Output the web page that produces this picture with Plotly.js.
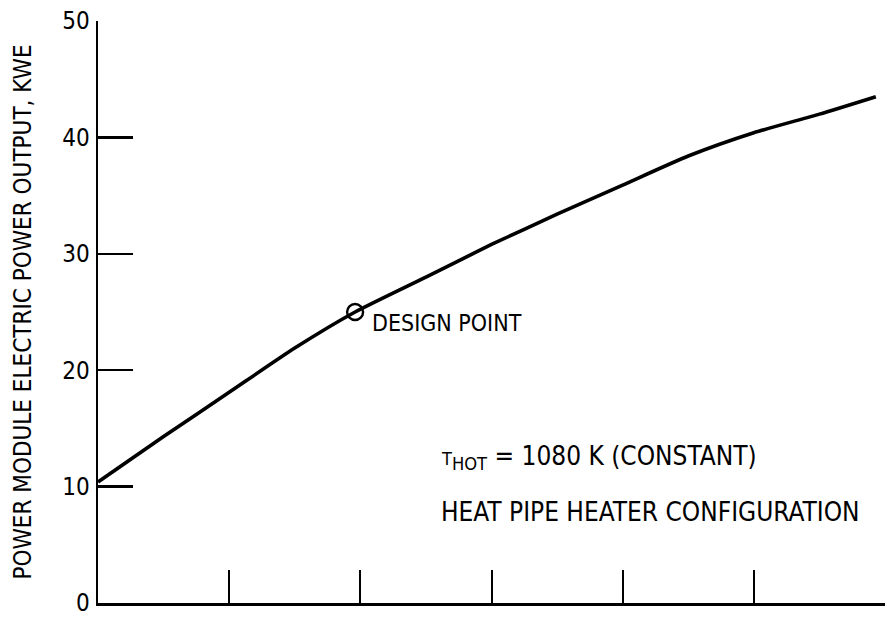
<!DOCTYPE html>
<html>
<head>
<meta charset="utf-8">
<script src="https://cdn.plot.ly/plotly-3.0.1.min.js"></script>
<style>html,body{margin:0;padding:0;background:#fff;}#chart{width:887px;height:618px;}</style>
</head>
<body>
<div id="chart"></div>
<script>
// Curve values (x in unlabeled axis units 0..6)
const curveX = [0, 0.5, 1.0, 1.5, 1.96, 2.5, 3.0, 3.5, 4.0, 4.5, 5.0, 5.5, 5.93];
const curveY = [10.4, 14.3, 18.1, 21.9, 25.0, 28.0, 30.8, 33.4, 35.9, 38.4, 40.4, 42.0, 43.5];
const designX = [1.96];
const designY = [25.0];
const yTicks = [0, 10, 20, 30, 40, 50];
const xTicks = [0, 1, 2, 3, 4, 5, 6];

const FONT = "DejaVu Sans Condensed, sans-serif";

const traces = [
  {x: curveX, y: curveY, mode: 'lines', type: 'scatter', line: {color: '#000', width: 3.6, shape: 'spline', smoothing: 0.6}, hoverinfo: 'skip'},
  {x: designX, y: designY, mode: 'markers', type: 'scatter', marker: {symbol: 'circle-open', size: 16, color: '#000', line: {width: 2.4, color: '#000'}}}
];

const layout = {
  width: 887, height: 618,
  margin: {l: 98, r: 2, t: 21, b: 15},
  paper_bgcolor: '#fff', plot_bgcolor: '#fff',
  showlegend: false,
  font: {family: FONT, color: '#000'},
  xaxis: {
    range: [0, 6], tickvals: xTicks, showticklabels: false,
    ticks: 'inside', ticklen: 33, tickwidth: 2, tickcolor: '#000',
    showline: true, linecolor: '#000', linewidth: 2.5, showgrid: false, zeroline: false
  },
  yaxis: {
    range: [0, 50], tickvals: yTicks, ticktext: yTicks.map(String),
    ticks: 'inside', ticklen: 35, tickwidth: 2.5, tickcolor: '#000',
    ticklabelstandoff: 1, ticklabeloverflow: 'allow',
    tickfont: {family: FONT, size: 24, color: '#000'},
    showline: true, linecolor: '#000', linewidth: 2.5, showgrid: false, zeroline: false,
    title: {text: 'POWER MODULE ELECTRIC POWER OUTPUT, KWE', font: {family: FONT, size: 24, color: '#000'}, standoff: 24}
  },
  annotations: [
    {x: 2.07, y: 24.06, xref: 'x', yref: 'y', text: 'DESIGN POINT', showarrow: false, xanchor: 'left', yanchor: 'middle', font: {family: FONT, size: 23, color: '#000'}},
    {x: 2.60, y: 12.5, xref: 'x', yref: 'y', text: '<span style="font-size:18px">T</span><sub>HOT</sub> = 1080 K (CONSTANT)', showarrow: false, xanchor: 'left', yanchor: 'middle', font: {family: FONT, size: 26, color: '#000'}},
    {x: 2.60, y: 7.8, xref: 'x', yref: 'y', text: 'HEAT PIPE HEATER CONFIGURATION', showarrow: false, xanchor: 'left', yanchor: 'middle', font: {family: FONT, size: 26, color: '#000'}}
  ]
};

Plotly.newPlot('chart', traces, layout, {displayModeBar: false, staticPlot: true});
</script>
</body>
</html>
